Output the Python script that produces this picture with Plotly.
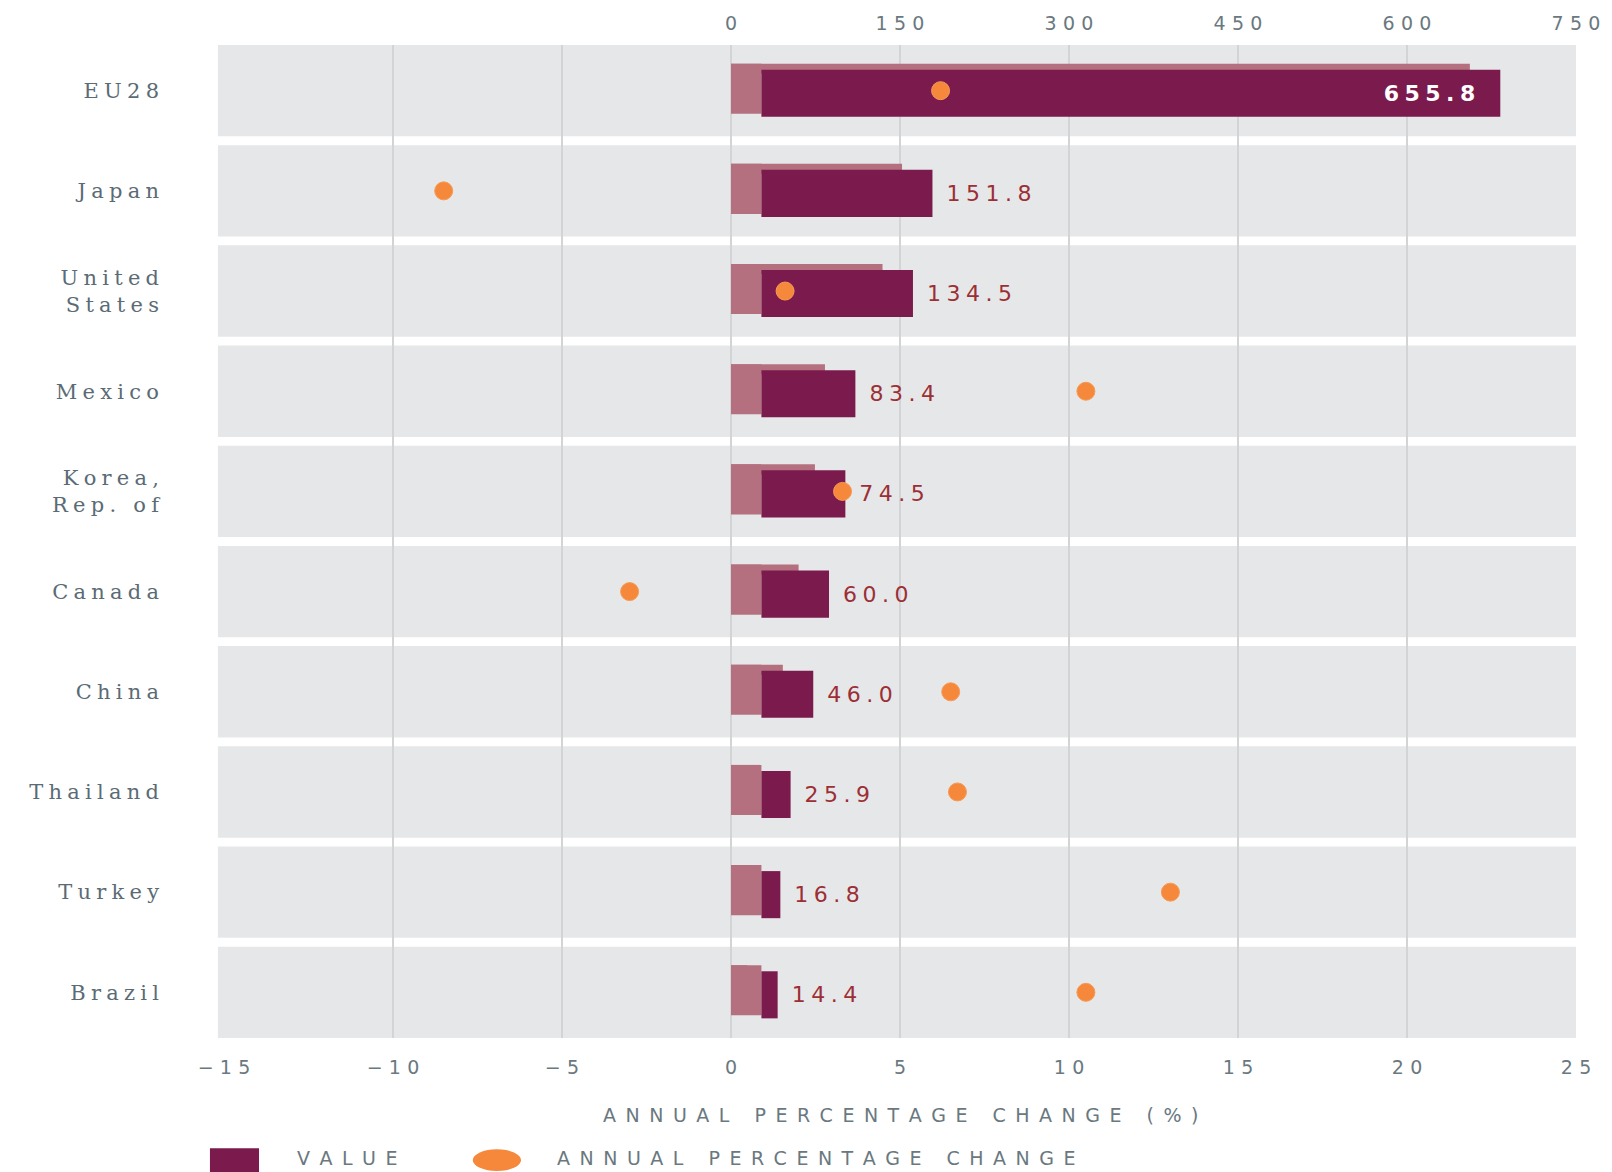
import plotly.graph_objects as go

countries = ["EU28", "Japan", "United<br>States", "Mexico", "Korea,<br>Rep. of",
             "Canada", "China", "Thailand", "Turkey", "Brazil"]
values = [655.8, 151.8, 134.5, 83.4, 74.5, 60.0, 46.0, 25.9, 16.8, 14.4]
pct_change = [6.2, -8.5, 1.6, 10.5, 3.3, -3.0, 6.5, 6.7, 13.0, 10.5]
value_labels = ["655.8", "151.8", "134.5", "83.4", "74.5", "60.0", "46.0", "25.9", "16.8", "14.4"]
pct_ticks = [-15, -10, -5, 0, 5, 10, 15, 20, 25]
pct_tick_text = ["\u221215", "\u221210", "\u22125", "0", "5", "10", "15", "20", "25"]
value_ticks = [0, 150, 300, 450, 600, 750]
value_tick_text = ["0", "150", "300", "450", "600", "750"]
x_title = "ANNUAL PERCENTAGE CHANGE (%)"
legend_value = "VALUE"
legend_pct = "ANNUAL PERCENTAGE CHANGE"

DEPTH = 27  # visual depth of the pseudo-3D bar side (style only)
DARK = "#7b1a4c"
LIGHT = "#b5707f"
ORANGE = "#f5883a"
BAND = "#e6e7e8"
GRID = "#d2d4d6"
TICK_COL = "#6a7880"
ROW_COL = "#5b6b75"
LABEL_COL = "#9c2f35"

EN = "\u2002"
THREE = "\u2004"
FOUR = "\u2005"


def spaced(s, sp):
    return "<br>".join(sp.join(line) for line in s.split("<br>"))


fig = go.Figure()

n = len(countries)
# side face of the pseudo-3D bar
fig.add_trace(go.Bar(
    y=countries, x=[DEPTH] * n, base=0, orientation="h",
    xaxis="x", yaxis="y", marker=dict(color=LIGHT, line=dict(width=0)),
    width=0.5, offset=-0.27, showlegend=False, hoverinfo="skip",
))
# top face
fig.add_trace(go.Bar(
    y=countries, x=values, base=0, orientation="h",
    xaxis="x", yaxis="y", marker=dict(color=LIGHT, line=dict(width=0)),
    width=0.1, offset=-0.27, showlegend=False, hoverinfo="skip",
))
# front face (the value bar)
fig.add_trace(go.Bar(
    y=countries, x=values, base=DEPTH, orientation="h",
    xaxis="x", yaxis="y", name=legend_value, showlegend=False,
    marker=dict(color=DARK, line=dict(width=0)),
    width=0.47, offset=-0.21,
    text=[spaced(t, FOUR) for t in value_labels],
    texttemplate=["%{text}" + EN + EN] + [EN + "%{text}"] * (n - 1),
    textposition=["inside"] + ["outside"] * (n - 1),
    insidetextanchor="end",
    insidetextfont=dict(color="white", size=22, family="DejaVu Sans", weight="bold"),
    outsidetextfont=dict(color=LABEL_COL, size=22, family="DejaVu Sans"),
    textangle=0,
    cliponaxis=False,
))
# annual percentage change dots (on the overlaying axis so they sit on top)
fig.add_trace(go.Scatter(
    y=countries, x=pct_change, mode="markers", xaxis="x2", yaxis="y",
    name=legend_pct, showlegend=False,
    marker=dict(color=ORANGE, size=18, line=dict(width=1, color="#f79a55")),
))

shapes = []
for i in range(n):
    shapes.append(dict(
        type="rect", xref="paper", yref="y", x0=-0.0045, x1=1.0,
        y0=i - 0.456, y1=i + 0.456, fillcolor=BAND, line=dict(width=0),
        layer="below",
    ))

# manual legend
shapes.append(dict(type="rect", xref="paper", yref="paper",
                   x0=-0.0104, x1=0.0259, y0=-0.135, y1=-0.111,
                   fillcolor=DARK, line=dict(width=0)))
shapes.append(dict(type="circle", xref="paper", yref="paper",
                   x0=0.184, x1=0.2197, y0=-0.134, y1=-0.112,
                   fillcolor=ORANGE, line=dict(width=0)))
annotations = [
    dict(xref="paper", yref="paper", x=0.0525, y=-0.121, xanchor="left", yanchor="middle",
         text=spaced(legend_value, EN), showarrow=False,
         font=dict(family="DejaVu Sans", size=19, color=TICK_COL)),
    dict(xref="paper", yref="paper", x=0.245, y=-0.121, xanchor="left", yanchor="middle",
         text=spaced(legend_pct, EN), showarrow=False,
         font=dict(family="DejaVu Sans", size=19, color=TICK_COL)),
    dict(xref="paper", yref="paper", x=0.5, y=-0.078, xanchor="center", yanchor="middle",
         text=spaced(x_title, EN), showarrow=False,
         font=dict(family="DejaVu Sans", size=19, color=TICK_COL)),
]

fig.update_layout(
    width=1612, height=1172,
    margin=dict(l=216, r=44, t=37, b=142, autoexpand=False),
    paper_bgcolor="white", plot_bgcolor="white",
    barmode="overlay",
    shapes=shapes,
    annotations=annotations,
    showlegend=False,
    xaxis=dict(
        range=[-450, 750], tickvals=value_ticks,
        ticktext=[spaced(t, THREE) for t in value_tick_text], side="top",
        showgrid=False, zeroline=False, showline=False, ticks="",
        ticklabelstandoff=10, automargin=False,
        tickfont=dict(family="DejaVu Sans", size=19, color=TICK_COL),
    ),
    xaxis2=dict(
        range=[-15, 25], tickvals=pct_ticks, overlaying="x",
        ticktext=[spaced(t, THREE) for t in pct_tick_text], side="bottom",
        showgrid=True, gridcolor=GRID, gridwidth=2, zeroline=False,
        showline=False, ticks="", ticklabelstandoff=16, automargin=False,
        tickfont=dict(family="DejaVu Sans", size=19, color=TICK_COL),
    ),
    yaxis=dict(
        categoryorder="array", categoryarray=countries, range=[n - 1 + 0.456, -0.456],
        showgrid=False, zeroline=False, showline=False, ticks="",
        ticklabelstandoff=64, automargin=False,
        tickvals=countries, ticktext=[spaced(c, FOUR) for c in countries],
        tickfont=dict(family="DejaVu Serif", size=21, color=ROW_COL),
    ),
)

fig.write_html("out.html")
